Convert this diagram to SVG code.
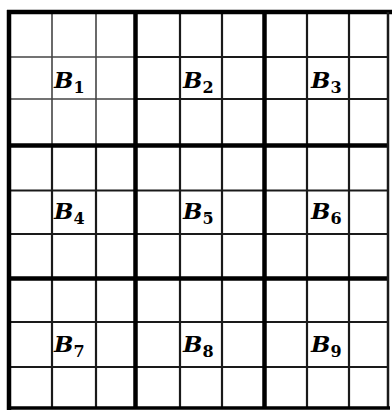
<svg xmlns="http://www.w3.org/2000/svg" width="392" height="410" viewBox="0 0 392 410">
<style>
.thin{stroke:#1a1a1a;stroke-width:2.2;fill:none}
.thin1{stroke:#444;stroke-width:1.6;fill:none}
.thick{stroke:#000;stroke-width:4.5;fill:none}
.lbl{font-family:"DejaVu Serif","Liberation Serif",serif;font-weight:bold;font-style:italic;font-size:23px;fill:#000}
.sub{font-size:16px;font-style:normal}
</style>
<rect width="392" height="410" fill="#fff"/>
<g id="grid">
<line class="thin1" x1="52" y1="12" x2="52" y2="145.5"/>
<line class="thin1" x1="96" y1="12" x2="96" y2="145.5"/>
<line class="thin" x1="52" y1="145.5" x2="52" y2="408"/>
<line class="thin" x1="96" y1="145.5" x2="96" y2="408"/>
<line class="thin" x1="180" y1="12" x2="180" y2="408"/>
<line class="thin" x1="222" y1="12" x2="222" y2="408"/>
<line class="thin" x1="307" y1="12" x2="307" y2="408"/>
<line class="thin" x1="349" y1="12" x2="349" y2="408"/>
<line class="thin1" x1="9" y1="57" x2="135.5" y2="57"/>
<line class="thin1" x1="9" y1="99" x2="135.5" y2="99"/>
<line class="thin" x1="135.5" y1="57" x2="388" y2="57"/>
<line class="thin" x1="135.5" y1="99" x2="388" y2="99"/>
<line class="thin" x1="9" y1="190.5" x2="388" y2="190.5"/>
<line class="thin" x1="9" y1="234" x2="388" y2="234"/>
<line class="thin" x1="9" y1="322" x2="388" y2="322"/>
<line class="thin" x1="9" y1="367" x2="388" y2="367"/>
<line class="thick" x1="135.5" y1="12" x2="135.5" y2="408"/>
<line class="thick" x1="264.5" y1="12" x2="264.5" y2="408"/>
<line class="thick" x1="9" y1="145.5" x2="388" y2="145.5"/>
<line class="thick" x1="9" y1="278.5" x2="388" y2="278.5"/>
<line class="thick" x1="7" y1="12" x2="392" y2="12"/>
<line class="thick" x1="9" y1="10" x2="9" y2="410"/>
<line class="thin" x1="388" y1="12" x2="388" y2="408" style="stroke-width:2.5"/>
<line class="thick" x1="7" y1="408" x2="390" y2="408" style="stroke-width:3.5"/>
</g>
<g id="B1"><text class="lbl" x="54" y="88">B<tspan class="sub" dy="5">1</tspan></text></g>
<g id="B2"><text class="lbl" x="183" y="88">B<tspan class="sub" dy="5">2</tspan></text></g>
<g id="B3"><text class="lbl" x="311" y="88">B<tspan class="sub" dy="5">3</tspan></text></g>
<g id="B4"><text class="lbl" x="54" y="219">B<tspan class="sub" dy="5">4</tspan></text></g>
<g id="B5"><text class="lbl" x="183" y="219">B<tspan class="sub" dy="5">5</tspan></text></g>
<g id="B6"><text class="lbl" x="311" y="219">B<tspan class="sub" dy="5">6</tspan></text></g>
<g id="B7"><text class="lbl" x="54" y="352">B<tspan class="sub" dy="5">7</tspan></text></g>
<g id="B8"><text class="lbl" x="183" y="352">B<tspan class="sub" dy="5">8</tspan></text></g>
<g id="B9"><text class="lbl" x="311" y="352">B<tspan class="sub" dy="5">9</tspan></text></g>
</svg>
